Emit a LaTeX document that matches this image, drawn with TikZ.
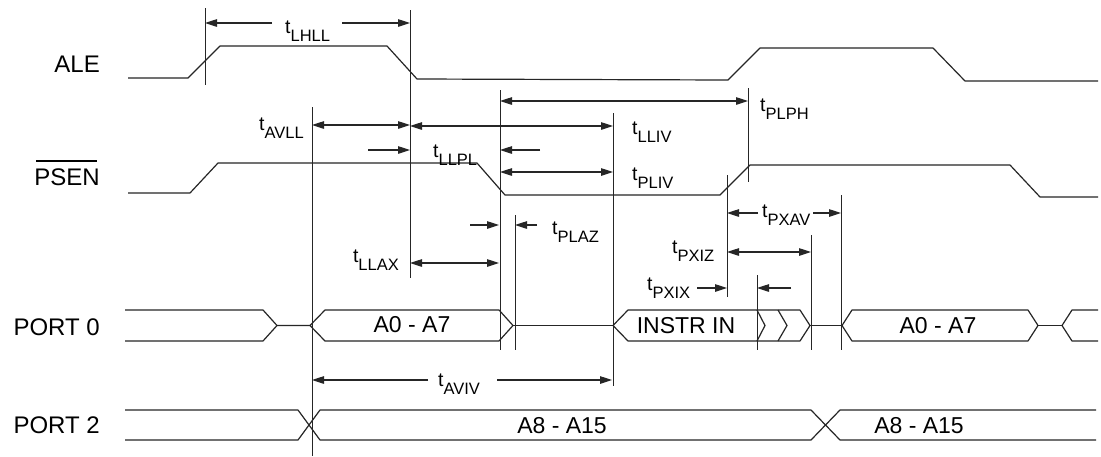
\documentclass[tikz,border=0pt]{standalone}
\usepackage{fontspec}
\setmainfont{Liberation Sans}
\usetikzlibrary{arrows.meta}
\definecolor{ink}{gray}{0.15}
\newcommand\tsub[1]{{\fontsize{19.5}{19.5}\selectfont t}\raisebox{-8pt}{\fontsize{16.5}{16.5}\selectfont #1}}
\tikzset{
  sig/.style={line width=1.2pt, draw=ink, line join=round},
  vline/.style={line width=1pt, draw=ink},
  dimline/.style={line width=1.1pt, draw=ink},
  both/.style={dimline, {Triangle[length=12pt,width=7.5pt]}-{Triangle[length=12pt,width=7.5pt]}},
  tor/.style={dimline, -{Triangle[length=12pt,width=7.5pt]}},
  siglbl/.style={font=\fontsize{24}{24}\selectfont, inner sep=0pt, text=black},
  datalbl/.style={font=\fontsize{23}{23}\selectfont, inner sep=0pt, text=black},
  tlbl/.style={inner sep=0pt, text=black},
}
\begin{document}
\begin{tikzpicture}[x=1pt,y=-1pt]
\fill[white] (0,0) rectangle (1101,456);
\useasboundingbox (0,0) rectangle (1101,456);

% signal names
\node[siglbl, anchor=base east] (ale) at (100,72) {ALE};
\node[siglbl, anchor=base east] (psen) at (100,185) {PSEN};
\draw[line width=1.2pt, black] ([xshift=2pt,yshift=7pt]psen.north west) -- ([xshift=-3pt,yshift=7pt]psen.north east);
\node[siglbl, anchor=base east] (p0) at (100,335) {PORT 0};
\node[siglbl, anchor=base east] (p2) at (100,433) {PORT 2};

% ALE
\draw[sig] (128,78) -- (188,78) -- (220,46) -- (387,46) -- (417,79) -- (728,80) -- (760,48) -- (933,48) -- (965,81) -- (1098,81);
% PSEN
\draw[sig] (128,193) -- (190,193) -- (218,163) -- (477,163) -- (505,195) -- (720,195) -- (750,165) -- (1010,165) -- (1040,197) -- (1098,197);

% PORT 0
\draw[sig] (125,310) -- (263,310) -- (277,325.5) -- (310,325.5);
\draw[sig] (125,341) -- (263,341) -- (277,325.5);
\draw[sig] (310,325.5) -- (325,310) -- (499,310) -- (513,325.5) -- (499,341) -- (325,341) -- cycle;
\draw[sig] (513,325.5) -- (613,325.5);
\draw[sig] (613,325.5) -- (628,310) -- (800,310) -- (810,325.5) -- (800,341) -- (628,341) -- cycle;
\draw[sig] (757,310) -- (765,325.5) -- (757,341);
\draw[sig] (778,310) -- (787,325.5) -- (778,341);
\draw[sig] (810,325.5) -- (842,325.5);
\draw[sig] (842,325.5) -- (852,310) -- (1028,310) -- (1038,325.5) -- (1028,341) -- (852,341) -- cycle;
\draw[sig] (1038,325.5) -- (1062,325.5);
\draw[sig] (1098,310) -- (1072,310) -- (1062,325.5) -- (1072,341) -- (1098,341);

% PORT 2
\draw[sig] (125,410) -- (298,410) -- (320,440) -- (811,440) -- (840,410) -- (1096,410);
\draw[sig] (125,440) -- (298,440) -- (320,410) -- (811,410) -- (840,440) -- (1096,440);

% data labels
\node[datalbl] (d1) at (412,325) {A0 - A7};
\node[datalbl] (d2) at (686,326) {INSTR IN};
\node[datalbl] (d3) at (938,326) {A0 - A7};
\node[datalbl] (d4) at (562,426) {A8 - A15};
\node[datalbl] (d5) at (919,426) {A8 - A15};

% vertical reference lines
\draw[vline] (205,8) -- (205,85);
\draw[vline] (410,10) -- (410,278);
\draw[vline] (312,107) -- (312,456);
\draw[vline] (500,90) -- (500,350);
\draw[vline] (515,215) -- (515,350);
\draw[vline] (613,113) -- (613,386);
\draw[vline] (748,88) -- (748,182);
\draw[vline] (727,175) -- (727,297);
\draw[vline] (757,275) -- (757,350);
\draw[vline] (811,235) -- (811,350);
\draw[vline] (841,195) -- (841,350);

% timing labels and arrows
\node[tlbl, anchor=base west] (tLHLL) at (285,33) {\tsub{LHLL}};
\draw[tor] (272,23) -- (205,23);
\draw[tor] (342,23) -- (410,23);

\node[tlbl, anchor=base east] (tAVLL) at (304,130) {\tsub{AVLL}};
\draw[both] (312,125) -- (410,125);

\draw[both] (410,126) -- (613,126);
\node[tlbl, anchor=base west] (tLLIV) at (632,134) {\tsub{LLIV}};

\draw[tor] (368,150) -- (410,150);
\draw[tor] (540,150) -- (500,150);
\node[tlbl, anchor=base west] (tLLPL) at (433,157) {\tsub{LLPL}};

\draw[both] (500,101) -- (748,101);
\node[tlbl, anchor=base west] (tPLPH) at (760,111) {\tsub{PLPH}};

\draw[both] (500,172) -- (613,172);
\node[tlbl, anchor=base west] (tPLIV) at (632,180) {\tsub{PLIV}};

\draw[tor] (470,225) -- (499,225);
\draw[tor] (537,225) -- (515,225);
\node[tlbl, anchor=base west] (tPLAZ) at (552,234) {\tsub{PLAZ}};

\draw[both] (410,263) -- (499,263);
\node[tlbl, anchor=base east] (tLLAX) at (399,262) {\tsub{LLAX}};

\node[tlbl, anchor=base west] (tPXAV) at (762,217) {\tsub{PXAV}};
\draw[tor] (758,213) -- (727,213);
\draw[tor] (813,213) -- (841,213);

\draw[both] (727,252) -- (811,252);
\node[tlbl, anchor=base west] (tPXIZ) at (672,253) {\tsub{PXIZ}};

\node[tlbl, anchor=base west] (tPXIX) at (647,290) {\tsub{PXIX}};
\draw[tor] (697,288) -- (727,288);
\draw[tor] (791,288) -- (757,288);

\node[tlbl, anchor=base west] (tAVIV) at (438,386) {\tsub{AVIV}};
\draw[tor] (428,380) -- (312,380);
\draw[tor] (497,380) -- (612,380);
\end{tikzpicture}
\end{document}
